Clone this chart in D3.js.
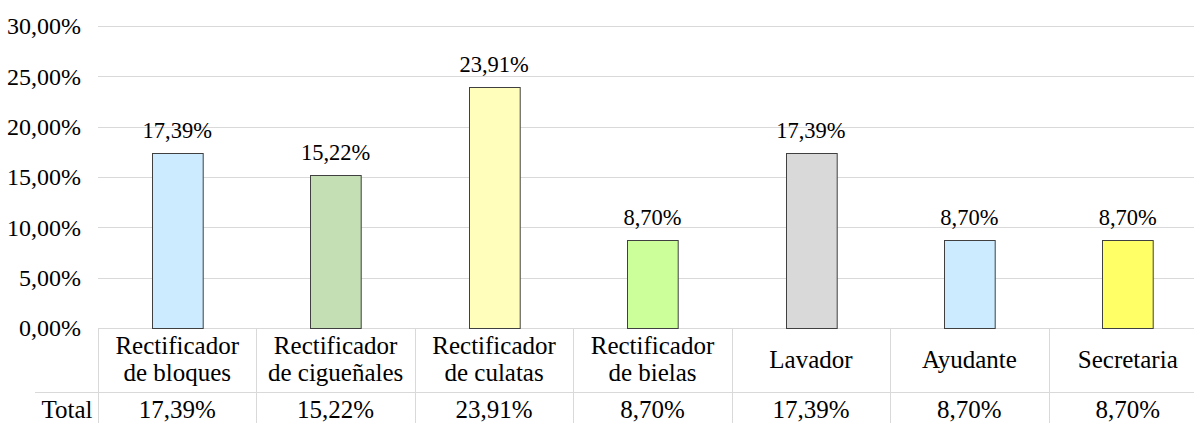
<!DOCTYPE html>
<html><head><meta charset="utf-8">
<script src="https://cdn.jsdelivr.net/npm/d3@7"></script>
<style>body{margin:0;background:#fff;overflow:hidden;}svg{display:block;}</style>
</head><body>
<script>
const categories = [["Rectificador","de bloques"],["Rectificador","de cigueñales"],["Rectificador","de culatas"],["Rectificador","de bielas"],["Lavador"],["Ayudante"],["Secretaria"]];
const values = [0.1739, 0.1522, 0.2391, 0.0870, 0.1739, 0.0870, 0.0870];
const barColors = ["#CCEBFF","#C4DFB3","#FFFFBB","#CCFF99","#D9D9D9","#CCEBFF","#FFFF66"];
const yTicks = [0, 0.05, 0.10, 0.15, 0.20, 0.25, 0.30];
const rowLabel = "Total";

(function(){
const W = 1194, H = 423;
const pLeft = 98, pRight = 1207, pTop = 26, base = 328, row1 = 392;
const FF = "Liberation Serif";
const fmt = v => (v*100).toFixed(2).replace('.', ',') + '%';

const svg = d3.select("body").append("svg").attr("width", W).attr("height", H)
  .attr("font-family", FF);
const idx = categories.map((d,i)=>i);
const xCol = d3.scaleBand().domain(idx).range([pLeft, pRight]).padding(0);
const xBar = d3.scaleBand().domain(idx).range([pLeft, pRight]).paddingInner(0.68).paddingOuter(0.34);
const y = d3.scaleLinear().domain([0, 0.30]).range([base, pTop]);

svg.append("g").selectAll("line").data(yTicks).join("line")
  .attr("x1", pLeft).attr("x2", pRight)
  .attr("y1", d => Math.round(y(d))+0.5).attr("y2", d => Math.round(y(d))+0.5)
  .attr("stroke", "#d9d9d9").attr("stroke-width", 1);

svg.append("g").selectAll("text").data(yTicks).join("text")
  .attr("font-family", FF)
  .attr("x", 81).attr("y", d => y(d)).attr("dy", "0.35em")
  .attr("text-anchor", "end").attr("font-size", 24)
  .attr("fill", "#000").text(fmt);

svg.append("g").selectAll("rect").data(values).join("rect")
  .attr("x", (d,i) => Math.round(xBar(i))+0.5).attr("width", xBar.bandwidth())
  .attr("y", d => Math.round(y(d))+0.5).attr("height", d => base - Math.round(y(d)))
  .attr("fill", (d,i) => barColors[i]).attr("stroke", "#404040").attr("stroke-width", 1);

svg.append("g").selectAll("text").data(values).join("text")
  .attr("font-family", FF)
  .attr("x", (d,i) => xCol(i) + xCol.bandwidth()/2).attr("y", d => y(d) - 15)
  .attr("text-anchor", "middle").attr("font-size", 22.5)
  .text(fmt);

const tg = svg.append("g").attr("stroke", "#d9d9d9").attr("stroke-width", 1);
tg.append("line").attr("x1", 35).attr("x2", pRight).attr("y1", row1+0.5).attr("y2", row1+0.5);
idx.concat([categories.length]).forEach(i => {
  const xx = Math.round(i < categories.length ? xCol(i) : pRight) + 0.5;
  tg.append("line").attr("x1", xx).attr("x2", xx).attr("y1", base).attr("y2", H);
});

const cg = svg.append("g").attr("font-size", 25).attr("text-anchor", "middle");
categories.forEach((lines, i) => {
  const cx = xCol(i) + xCol.bandwidth()/2;
  if (lines.length === 2) {
    cg.append("text").attr("font-family", FF).attr("x", cx).attr("y", 354).text(lines[0]);
    cg.append("text").attr("font-family", FF).attr("x", cx).attr("y", 381).text(lines[1]);
  } else {
    cg.append("text").attr("font-family", FF).attr("x", cx).attr("y", 368).text(lines[0]);
  }
});

const trow = svg.append("g").attr("font-size", 25).attr("text-anchor", "middle");
trow.selectAll("text").data(values).join("text").attr("font-family", FF)
  .attr("x", (d,i) => xCol(i) + xCol.bandwidth()/2).attr("y", 418).text(fmt);
svg.append("text").attr("font-family", FF).attr("x", 67).attr("y", 418).attr("text-anchor", "middle")
  .attr("font-size", 25).text(rowLabel);
})();
</script>
</body></html>
